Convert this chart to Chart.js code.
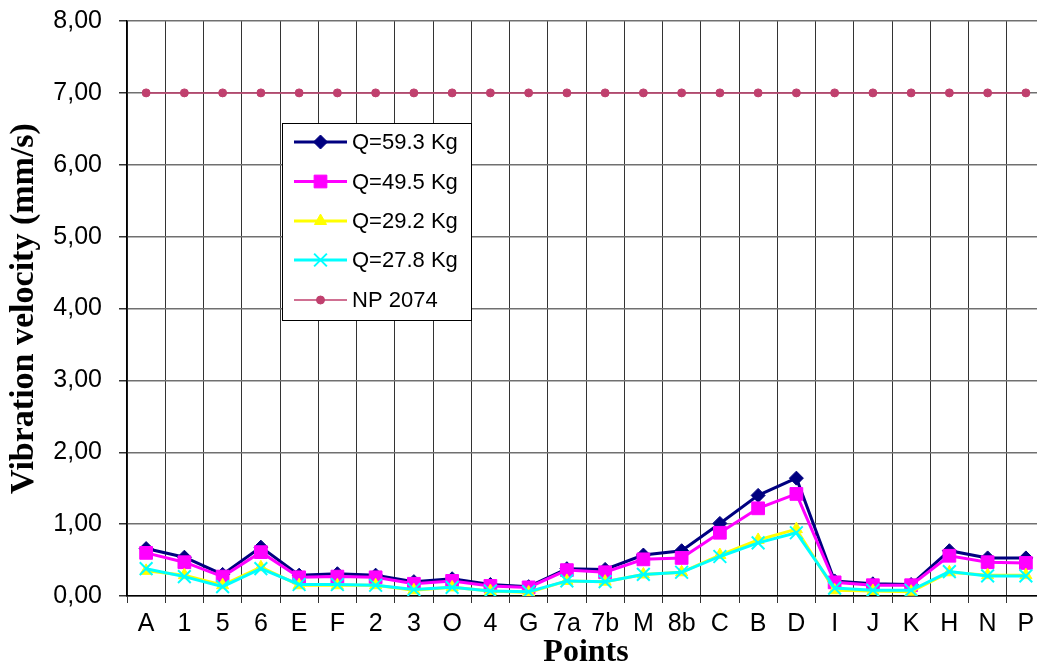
<!DOCTYPE html>
<html>
<head>
<meta charset="utf-8">
<script src="https://cdn.jsdelivr.net/npm/chart.js@4/dist/chart.umd.min.js"></script>
<style>
  html, body { margin: 0; padding: 0; background: #fff; overflow: hidden; }
  #wrap { width: 1037px; height: 671px; overflow: hidden; position: relative; }
  canvas { display: block; }
</style>
</head>
<body>
<div id="wrap"><canvas id="c" width="1056" height="671"></canvas></div>
<script>
const categories = ['A','1','5','6','E','F','2','3','O','4','G','7a','7b','M','8b','C','B','D','I','J','K','H','N','P'];
const q593 = [0.66,0.54,0.30,0.68,0.29,0.31,0.29,0.20,0.24,0.16,0.13,0.38,0.37,0.57,0.63,1.01,1.40,1.64,0.21,0.17,0.16,0.63,0.53,0.53];
const q495 = [0.60,0.47,0.27,0.61,0.26,0.27,0.26,0.17,0.21,0.14,0.12,0.36,0.33,0.51,0.53,0.88,1.22,1.42,0.19,0.15,0.15,0.56,0.47,0.46];
const q292 = [0.35,0.29,0.15,0.40,0.15,0.15,0.15,0.08,0.12,0.07,0.05,0.21,0.20,0.30,0.33,0.57,0.78,0.93,0.08,0.07,0.06,0.33,0.29,0.29];
const q278 = [0.38,0.27,0.13,0.38,0.16,0.16,0.15,0.09,0.12,0.07,0.06,0.21,0.20,0.30,0.33,0.55,0.74,0.88,0.11,0.08,0.08,0.34,0.28,0.28];
const np2074 = [7.00,7.00,7.00,7.00,7.00,7.00,7.00,7.00,7.00,7.00,7.00,7.00,7.00,7.00,7.00,7.00,7.00,7.00,7.00,7.00,7.00,7.00,7.00,7.00];
const seriesNames = ['Q=59.3 Kg','Q=49.5 Kg','Q=29.2 Kg','Q=27.8 Kg','NP 2074'];
const yTickValues = [0,1,2,3,4,5,6,7,8];
const xTitle = 'Points';
const yTitle = 'Vibration velocity (mm/s)';

const SANS = "'Liberation Sans', Arial, sans-serif";
const SERIF = "'Liberation Serif', 'Times New Roman', serif";

const styles = [
  { color: '#000080', style: 'rectRot', radius: 7, lw: 3, bw: 1, order: 5 },
  { color: '#ff00ff', style: 'rect', radius: 9, lw: 3, bw: 1, order: 4 },
  { color: '#ffff00', style: 'triangle', radius: 7, lw: 3, bw: 1, order: 3 },
  { color: '#00ffff', style: 'crossRot', radius: 9, lw: 3, bw: 2, order: 2 },
  { color: '#c0406e', style: 'circle', radius: 4, lw: 1.5, bw: 1, order: 1 }
];
const seriesData = [q593, q495, q292, q278, np2074];

const datasets = seriesData.map((d, i) => ({
  label: seriesNames[i],
  data: d,
  borderColor: styles[i].color,
  backgroundColor: styles[i].color,
  borderWidth: styles[i].lw,
  pointStyle: styles[i].style,
  pointRadius: styles[i].radius,
  pointBorderWidth: styles[i].bw,
  pointBackgroundColor: styles[i].color,
  pointBorderColor: styles[i].color,
  tension: 0,
  order: styles[i].order
}));

const legendPlugin = {
  id: 'boxLegend',
  afterDraw(chart) {
    const ctx = chart.ctx;
    const bx = 282, by = 123, bw = 189, bh = 197;
    ctx.save();
    ctx.fillStyle = '#fff';
    ctx.fillRect(bx, by, bw, bh);
    ctx.strokeStyle = '#000';
    ctx.lineWidth = 1;
    ctx.strokeRect(bx + 0.5, by + 0.5, bw, bh);
    const rows = [142, 181.5, 221, 260, 300];
    seriesNames.forEach((name, i) => {
      const y = rows[i];
      const s = styles[i];
      ctx.strokeStyle = s.color;
      ctx.lineWidth = s.lw;
      ctx.beginPath();
      ctx.moveTo(294, y);
      ctx.lineTo(347, y);
      ctx.stroke();
      ctx.fillStyle = s.color;
      ctx.strokeStyle = s.color;
      ctx.lineWidth = s.bw;
      Chart.helpers.drawPoint(ctx, { pointStyle: s.style, radius: s.radius, rotation: 0, borderWidth: s.bw }, 320.5, y);
      ctx.fillStyle = '#000';
      ctx.font = "22px " + SANS;
      ctx.textBaseline = 'middle';
      ctx.textAlign = 'left';
      ctx.fillText(name, 352, y + 1);
    });
    ctx.restore();
  }
};

new Chart(document.getElementById('c'), {
  type: 'line',
  data: { labels: categories, datasets },
  plugins: [legendPlugin],
  options: {
    responsive: false,
    devicePixelRatio: 1,
    animation: false,
    events: [],
    layout: { padding: { top: 21, right: 0, bottom: 0, left: 0 } },
    plugins: { legend: { display: false }, tooltip: { enabled: false }, title: { display: false } },
    scales: {
      x: {
        type: 'category',
        offset: true,
        grid: { display: true, offset: true, color: '#333', lineWidth: 1, tickLength: 7, tickColor: '#333', drawTicks: true },
        border: { display: true, color: '#000', width: 1.5 },
        ticks: { color: '#000', font: { family: SANS, size: 25 }, padding: 6, maxRotation: 0, autoSkip: false },
        title: { display: true, text: xTitle, color: '#000', font: { family: SERIF, size: 32, weight: 'bold', lineHeight: 1 }, padding: { top: 0, bottom: 2 } },
        afterFit(scale) { scale.height = 75; scale.paddingLeft = 0; scale.paddingRight = 0; }
      },
      y: {
        min: 0, max: 8,
        afterBuildTicks(scale) { scale.ticks = yTickValues.map(v => ({ value: v })); },
        grid: { color: '#707070', lineWidth: 1.5, tickLength: 8, tickColor: '#333' },
        border: { display: true, color: '#000', width: 1.5 },
        ticks: { color: '#000', font: { family: SANS, size: 25 }, padding: 17,
          callback: v => Number(v).toFixed(2).replace('.', ',') },
        title: { display: true, text: yTitle, color: '#000', font: { family: SERIF, size: 34, weight: 'bold', lineHeight: 1 }, padding: { top: 7, bottom: 0 } },
        afterFit(scale) { scale.width = 127; scale.paddingTop = 0; scale.paddingBottom = 0; }
      }
    }
  }
});
</script>
</body>
</html>
